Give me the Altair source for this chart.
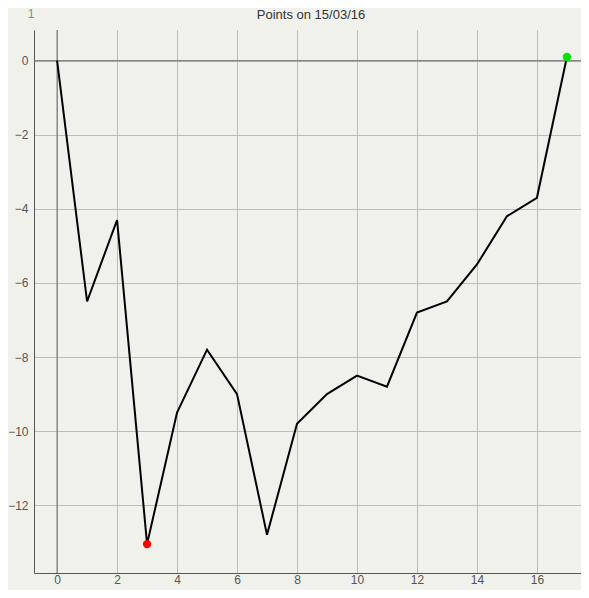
import altair as alt
import pandas as pd

xs = list(range(18))
ys = [0, -6.5, -4.3, -13.05, -9.5, -7.8, -9.0, -12.8, -9.8, -9.0, -8.5, -8.8, -6.8, -6.5, -5.5, -4.2, -3.7, 0.1]
title_text = "Points on 15/03/16"
corner_text = "1"

df = pd.DataFrame({"x": xs, "y": ys})
min_df = df[df.y == df.y.min()]
max_df = df[df.y == df.y.max()]

xdom = [-0.77, 17.47]
ydom = [-13.83, 0.83]
xticks = list(range(0, 18, 2))
yticks = list(range(-12, 1, 2))

xs_scale = alt.Scale(domain=xdom, nice=False, zero=False)
ys_scale = alt.Scale(domain=ydom, nice=False, zero=False)

axis_style = dict(tickSize=0, grid=True, gridColor="#bdbdb8",
                  domainColor="#555", labelColor="#555", labelFontSize=12,
                  labelFont="Liberation Sans")

base = alt.Chart(df)

line = base.mark_line(color="black", strokeWidth=2).encode(
    x=alt.X("x:Q", scale=xs_scale, title=None,
            axis=alt.Axis(values=xticks, labelPadding=1, **axis_style)),
    y=alt.Y("y:Q", scale=ys_scale, title=None,
            axis=alt.Axis(values=yticks, labelPadding=6, **axis_style)),
)

zero_h = alt.Chart(pd.DataFrame({"y": [0]})).mark_rule(color="#666", strokeWidth=1).encode(
    y=alt.Y("y:Q", scale=ys_scale))
zero_v = alt.Chart(pd.DataFrame({"x": [0]})).mark_rule(color="#666", strokeWidth=1).encode(
    x=alt.X("x:Q", scale=xs_scale))

pmin = alt.Chart(min_df).mark_circle(color="#ff0000", opacity=1, size=70).encode(
    x=alt.X("x:Q", scale=xs_scale), y=alt.Y("y:Q", scale=ys_scale))
pmax = alt.Chart(max_df).mark_circle(color="#00e600", opacity=1, size=70).encode(
    x=alt.X("x:Q", scale=xs_scale), y=alt.Y("y:Q", scale=ys_scale))

one = alt.Chart(pd.DataFrame({"t": [corner_text]})).mark_text(
    color="#7a8a9a", fontSize=12, font="Liberation Sans", align="center", baseline="middle"
).encode(text="t:N", x=alt.value(-3), y=alt.value(-16))

title = alt.Chart(pd.DataFrame({"t": [title_text]})).mark_text(
    color="#333", fontSize=13, font="Liberation Sans", align="center", baseline="middle"
).encode(text="t:N", x=alt.value(277), y=alt.value(-15))

chart = alt.layer(zero_v, zero_h, line, pmin, pmax, one, title).properties(
    width=547, height=543,
    autosize=alt.AutoSizeParams(type="none"),
    padding={"left": 26, "top": 22, "right": 0, "bottom": 17},
).configure(background="#f1f1eb").configure_view(stroke=None)

chart.save("out.html", embed_options={"renderer": "svg", "actions": False})
